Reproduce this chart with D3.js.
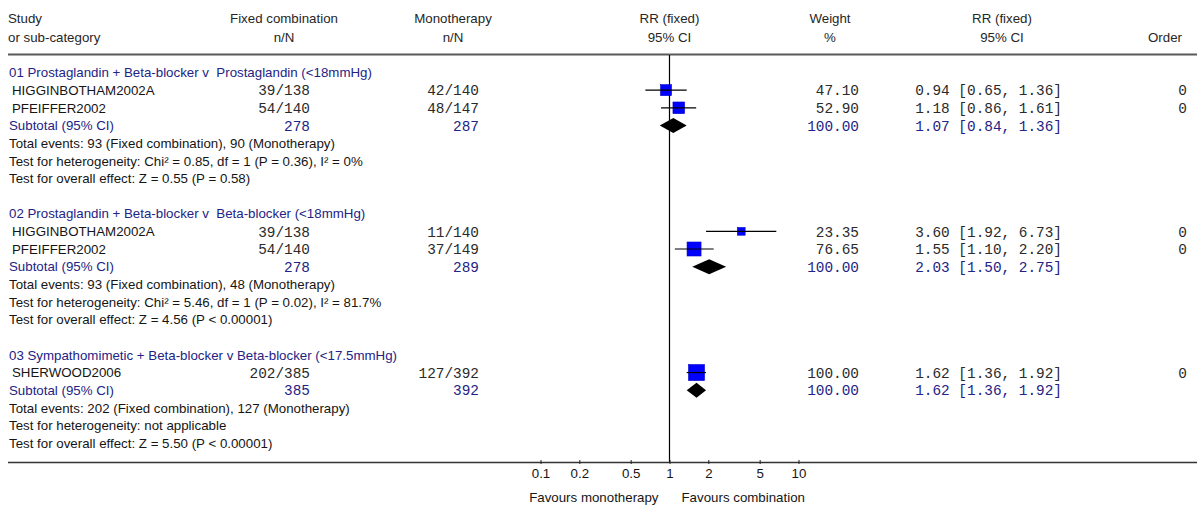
<!DOCTYPE html>
<html><head><meta charset="utf-8">
<script src="https://cdn.jsdelivr.net/npm/d3@7"></script>
<style>body{margin:0;background:#fff}svg{display:block}text{white-space:pre}</style>
</head><body><svg id="c" width="1203" height="509"></svg>
<script>
// ---------- data ----------
const headerTop = ["Study", "Fixed combination", "Monotherapy", "RR (fixed)", "Weight", "RR (fixed)", ""];
const headerBottom = ["or sub-category", "n/N", "n/N", "95% CI", "%", "95% CI", "Order"];

const groupTitles = [
  "01 Prostaglandin + Beta-blocker v  Prostaglandin (<18mmHg)",
  "02 Prostaglandin + Beta-blocker v  Beta-blocker (<18mmHg)",
  "03 Sympathomimetic + Beta-blocker v Beta-blocker (<17.5mmHg)"
];
const studyNames = ["HIGGINBOTHAM2002A", "PFEIFFER2002", "HIGGINBOTHAM2002A", "PFEIFFER2002", "SHERWOOD2006"];
const studyGroup = [0, 0, 1, 1, 2];
const studyFixed = ["39/138", "54/140", "39/138", "54/140", "202/385"];
const studyMono = ["42/140", "48/147", "11/140", "37/149", "127/392"];
const studyWeight = [47.10, 52.90, 23.35, 76.65, 100.00];
const studyRR = [0.94, 1.18, 3.60, 1.55, 1.62];
const studyLo = [0.65, 0.86, 1.92, 1.10, 1.36];
const studyHi = [1.36, 1.61, 6.73, 2.20, 1.92];
const studyOrder = [0, 0, 0, 0, 0];

const subFixed = [278, 278, 385];
const subMono = [287, 289, 392];
const subWeight = [100.00, 100.00, 100.00];
const subRR = [1.07, 2.03, 1.62];
const subLo = [0.84, 1.50, 1.36];
const subHi = [1.36, 2.75, 1.92];

const totalEvents = [
  "Total events: 93 (Fixed combination), 90 (Monotherapy)",
  "Total events: 93 (Fixed combination), 48 (Monotherapy)",
  "Total events: 202 (Fixed combination), 127 (Monotherapy)"
];
const heterogeneity = [
  "Test for heterogeneity: Chi\u00B2 = 0.85, df = 1 (P = 0.36), I\u00B2 = 0%",
  "Test for heterogeneity: Chi\u00B2 = 5.46, df = 1 (P = 0.02), I\u00B2 = 81.7%",
  "Test for heterogeneity: not applicable"
];
const overallEffect = [
  "Test for overall effect: Z = 0.55 (P = 0.58)",
  "Test for overall effect: Z = 4.56 (P < 0.00001)",
  "Test for overall effect: Z = 5.50 (P < 0.00001)"
];
const tickValues = [0.1, 0.2, 0.5, 1, 2, 5, 10];
const favoursLeft = "Favours monotherapy";
const favoursRight = "Favours combination";

// ---------- layout ----------
const SANS = "'Liberation Sans', Arial, sans-serif";
const MONO = "'Liberation Mono', 'Courier New', monospace";
const NAVY = "#232385";
const TXT = "#151515";
const MONOTXT = "#2a2a2a";

const svg = d3.select("#c");
const x = d3.scaleLog().domain([0.1, 10]).range([540.5, 798.5]);
const size = d3.scaleSqrt().domain([0, 100]).range([0, 16]);

// build row list
const rows = [];
let r = 0;
groupTitles.forEach((g, gi) => {
  rows.push({type: "title", g: gi, row: r++});
  studyNames.forEach((s, si) => { if (studyGroup[si] === gi) rows.push({type: "study", i: si, row: r++}); });
  rows.push({type: "sub", g: gi, row: r++});
  rows.push({type: "tot", g: gi, row: r++});
  rows.push({type: "het", g: gi, row: r++});
  rows.push({type: "ove", g: gi, row: r++});
  r++; // blank row
});
const lastRow = r - 2;
const y = d3.scaleLinear().domain([0, lastRow]).range([72.5, 72.5 + 17.65 * lastRow]);

const col = {left: 9, indent: 12, fixedR: 310, monoR: 479, weightR: 859, ciR: 1062, orderR: 1187};
const hdrX = [8, 284, 453, x(1), 830, 1002, 1182];
const hdrAnchor = ["start", "middle", "middle", "middle", "middle", "middle", "end"];

function txt(xp, yp, s, opt) {
  opt = opt || {};
  svg.append("text").attr("x", xp).attr("y", yp).attr("dy", "0.36em")
    .attr("text-anchor", opt.anchor || "start")
    .attr("font-family", opt.mono ? MONO : SANS)
    .attr("font-size", opt.mono ? 14.4 : 13.3)
    .attr("fill", opt.fill || (opt.mono ? MONOTXT : TXT))
    .text(s);
}

// headers
headerTop.forEach((h, i) => txt(hdrX[i], 18, h, {anchor: hdrAnchor[i], fill: "#262626"}));
headerBottom.forEach((h, i) => txt(hdrX[i], 37, h, {anchor: hdrAnchor[i], fill: "#262626"}));

// lines
svg.append("line").attr("x1", 8).attr("x2", 1197).attr("y1", 54.5).attr("y2", 54.5)
  .attr("stroke", "#5a5a5a").attr("stroke-width", 2);
svg.append("line").attr("x1", x(1)).attr("x2", x(1)).attr("y1", 55).attr("y2", 462)
  .attr("stroke", "#000").attr("stroke-width", 1.2);
svg.append("line").attr("x1", 8).attr("x2", 1197).attr("y1", 462.5).attr("y2", 462.5)
  .attr("stroke", "#333").attr("stroke-width", 1.6);

// rows
rows.forEach(d => {
  const yy = y(d.row);
  if (d.type === "title") txt(col.left, yy, groupTitles[d.g], {fill: NAVY});
  else if (d.type === "study") {
    const i = d.i;
    txt(col.indent, yy, studyNames[i]);
    txt(col.fixedR, yy, studyFixed[i], {mono: true, anchor: "end"});
    txt(col.monoR, yy, studyMono[i], {mono: true, anchor: "end"});
    txt(col.weightR, yy, studyWeight[i].toFixed(2), {mono: true, anchor: "end"});
    txt(col.ciR, yy, `${studyRR[i].toFixed(2)} [${studyLo[i].toFixed(2)}, ${studyHi[i].toFixed(2)}]`, {mono: true, anchor: "end"});
    txt(col.orderR, yy, String(studyOrder[i]), {mono: true, anchor: "end"});
    const s = size(studyWeight[i]);
    svg.append("rect").attr("x", x(studyRR[i]) - s / 2).attr("y", yy - s / 2)
      .attr("width", s).attr("height", s).attr("fill", "#0000ff").attr("stroke", "#0000c8").attr("stroke-width", 0.6);
    svg.append("line").attr("x1", x(studyLo[i])).attr("x2", x(studyHi[i]))
      .attr("y1", yy).attr("y2", yy).attr("stroke", "#000").attr("stroke-width", 1.2);
  } else if (d.type === "sub") {
    const g = d.g;
    txt(col.left, yy, "Subtotal (95% CI)", {fill: NAVY});
    txt(col.fixedR, yy, String(subFixed[g]), {mono: true, anchor: "end", fill: NAVY});
    txt(col.monoR, yy, String(subMono[g]), {mono: true, anchor: "end", fill: NAVY});
    txt(col.weightR, yy, subWeight[g].toFixed(2), {mono: true, anchor: "end", fill: NAVY});
    txt(col.ciR, yy, `${subRR[g].toFixed(2)} [${subLo[g].toFixed(2)}, ${subHi[g].toFixed(2)}]`, {mono: true, anchor: "end", fill: NAVY});
    const h = 7.5;
    svg.append("path")
      .attr("d", `M${x(subLo[g])},${yy} L${x(subRR[g])},${yy - h} L${x(subHi[g])},${yy} L${x(subRR[g])},${yy + h} Z`)
      .attr("fill", "#000");
  } else if (d.type === "tot") txt(col.left, yy, totalEvents[d.g]);
  else if (d.type === "het") txt(col.left, yy, heterogeneity[d.g]);
  else if (d.type === "ove") txt(col.left, yy, overallEffect[d.g]);
});

// axis
const axis = d3.axisBottom(x).tickValues(tickValues).tickFormat(d => String(d)).tickSize(3).tickPadding(5);
const ax = svg.append("g").attr("transform", "translate(0,461)").call(axis);
ax.select(".domain").remove();
ax.selectAll(".tick line").attr("stroke", "#222").attr("y1", -1);
ax.selectAll(".tick text").attr("font-family", SANS).attr("font-size", 13.3).attr("fill", TXT);

txt(x(1) - 11, 497.5, favoursLeft, {anchor: "end"});
txt(x(1) + 12, 497.5, favoursRight, {anchor: "start"});
</script>
</body></html>
